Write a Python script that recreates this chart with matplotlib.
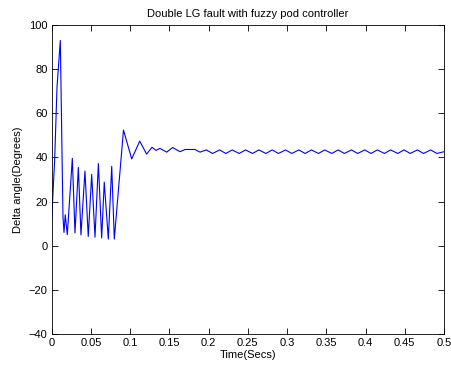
import matplotlib.pyplot as plt

# values (peaks / troughs of the trace)
t_start = [0.0, 0.0038, 0.0068, 0.0110, 0.0144, 0.0157, 0.0173, 0.0199,
           0.0263, 0.0297, 0.0340, 0.0373, 0.0424, 0.0466, 0.0510, 0.0552,
           0.0595, 0.0637, 0.0670, 0.0722, 0.0765, 0.0798]
v_start = [12.0, 39.0, 72.0, 93.0, 13.0, 6.0, 14.0, 5.0,
           39.6, 5.8, 35.5, 4.9, 33.8, 4.2, 32.3, 3.9,
           37.2, 3.5, 28.8, 3.0, 36.0, 3.0]

t_settle = [0.0915, 0.1020, 0.1122, 0.1210, 0.1278, 0.1330, 0.1380,
            0.1466, 0.1542, 0.1635, 0.1700, 0.1826, 0.1890]
v_settle = [52.4, 39.3, 47.4, 41.5, 44.6, 43.2, 44.1,
            42.4, 44.5, 42.6, 43.6, 43.6, 42.4]

t_ripple = [0.197, 0.205, 0.214, 0.222, 0.230, 0.239, 0.247, 0.256,
            0.264, 0.273, 0.281, 0.289, 0.298, 0.306, 0.315, 0.323,
            0.331, 0.340, 0.348, 0.357, 0.365, 0.373, 0.382, 0.390,
            0.399, 0.407, 0.415, 0.424, 0.432, 0.441, 0.449, 0.457,
            0.466, 0.474, 0.483, 0.491, 0.500]
v_ripple = [43.4, 41.8, 43.4, 41.8, 43.4, 41.8, 43.4, 41.8,
            43.4, 41.8, 43.4, 41.8, 43.4, 41.8, 43.4, 41.8,
            43.4, 41.8, 43.4, 41.8, 43.4, 41.8, 43.4, 41.8,
            43.4, 41.8, 43.4, 41.8, 43.4, 41.8, 43.4, 41.8,
            43.4, 41.8, 43.4, 41.8, 42.6]

time = t_start + t_settle + t_ripple
delta = v_start + v_settle + v_ripple

xticks = [0, 0.05, 0.1, 0.15, 0.2, 0.25, 0.3, 0.35, 0.4, 0.45, 0.5]
xticklabels = ['0', '0.05', '0.1', '0.15', '0.2', '0.25', '0.3', '0.35', '0.4', '0.45', '0.5']
yticks = [-40, -20, 0, 20, 40, 60, 80, 100]

plt.rcParams['font.family'] = ['Liberation Sans', 'DejaVu Sans']
plt.rcParams['font.size'] = 8

fig = plt.figure(figsize=(4.51, 3.70), dpi=100)
ax = fig.add_axes([0.1146, 0.0973, 0.8699, 0.8351])
ax.plot(time, delta, color='#0000ff', linewidth=0.8)

ax.set_xlim(0, 0.5)
ax.set_ylim(-40, 100)
ax.set_xticks(xticks)
ax.set_xticklabels(xticklabels)
ax.set_yticks(yticks)
ax.tick_params(direction='in', top=True, right=True, length=4, width=0.6,
               labelsize=8, pad=3)
for s in ax.spines.values():
    s.set_linewidth(0.6)

ax.set_title('Double LG fault with fuzzy pod controller', fontsize=8, pad=6)
ax.set_xlabel('Time(Secs)', fontsize=8, labelpad=1)
ax.set_ylabel('Delta angle(Degrees)', fontsize=8, labelpad=4)

fig.savefig('out.png', dpi=100)
